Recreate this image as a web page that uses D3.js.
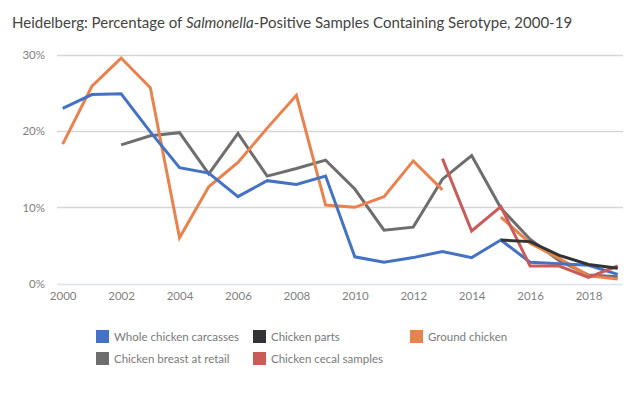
<!DOCTYPE html>
<html>
<head>
<meta charset="utf-8">
<script src="https://cdn.jsdelivr.net/npm/d3@7"></script>
<style>
  body { margin: 0; background: #fff; }
  svg { display: block; font-family: Lato, "Open Sans", sans-serif; }
</style>
</head>
<body>
<div id="chart"></div>
<script>
var years = d3.range(2000, 2020);

// percentages, null = no sampling that year
var wholeCarcasses = [23.0, 24.8, 24.9, 19.9, 15.2, 14.5, 11.4, 13.5, 13.0, 14.1, 3.5, 2.8, 3.4, 4.2, 3.4, 5.7, 2.8, 2.6, 2.4, 1.2];
var chickenParts   = [null, null, null, null, null, null, null, null, null, null, null, null, null, null, null, 5.7, 5.5, 3.7, 2.5, 2.0];
var groundChicken  = [18.3, 25.9, 29.6, 25.7, 6.0, 12.7, 15.9, 20.4, 24.7, 10.3, 10.0, 11.4, 16.1, 12.3, null, 8.7, 5.3, 3.3, 1.0, 0.6];
var breastRetail   = [null, null, 18.2, 19.4, 19.8, 14.4, 19.7, 14.1, 15.1, 16.2, 12.4, 7.0, 7.4, 13.7, 16.8, 9.9, 5.8, 3.0, 1.1, 0.9];
var cecalSamples   = [null, null, null, null, null, null, null, null, null, null, null, null, null, 16.4, 6.9, 10.1, 2.3, 2.3, 0.8, 2.3];

var yTicks = [0, 10, 20, 30];
var xTicks = [2000, 2002, 2004, 2006, 2008, 2010, 2012, 2014, 2016, 2018];

var series = [
  {name: "Whole chicken carcasses", color: "#4472C4", values: wholeCarcasses},
  {name: "Chicken parts", color: "#333333", values: chickenParts},
  {name: "Ground chicken", color: "#E8834E", values: groundChicken},
  {name: "Chicken breast at retail", color: "#6E6E6E", values: breastRetail},
  {name: "Chicken cecal samples", color: "#C95C58", values: cecalSamples}
];
// drawing order (later on top)
var drawOrder = [3, 2, 0, 4, 1];

var W = 640, H = 396;
var svg = d3.select("#chart").append("svg")
  .attr("width", W)
  .attr("height", H);

svg.append("text")
  .attr("x", 12)
  .attr("y", 28)
  .attr("font-size", "15px")
  .attr("fill", "#444")
  .html('Heidelberg: Percentage of <tspan font-style="italic">Salmonella</tspan>-Positive Samples Containing Serotype, 2000-19');

var gridLeft = 57, gridRight = 623;
var x = d3.scaleLinear().domain([2000, 2019]).range([62.7, 617.7]);
var y = d3.scaleLinear().domain([0, 30]).range([283.5, 55]);

// gridlines
svg.append("g")
  .selectAll("line")
  .data(yTicks)
  .enter().append("line")
    .attr("x1", gridLeft)
    .attr("x2", gridRight)
    .attr("y1", function(d) { return Math.round(y(d)) + 0.5; })
    .attr("y2", function(d) { return Math.round(y(d)) + 0.5; })
    .attr("stroke", function(d) { return d === 0 ? "#DCE3EF" : "#D6D6D6"; })
    .attr("stroke-width", 1.3);

// y axis labels
var yAxis = svg.append("g")
  .attr("transform", "translate(45,0)")
  .call(d3.axisLeft(y).tickValues(yTicks).tickSize(0).tickPadding(0)
    .tickFormat(function(d) { return d + "%"; }));
yAxis.select(".domain").remove();
yAxis.selectAll("text")
  .attr("fill", "#7F7F7F")
  .style("font", "11.5px Lato, sans-serif");

// x axis labels
var xAxis = svg.append("g")
  .attr("transform", "translate(0,292)")
  .call(d3.axisBottom(x).tickValues(xTicks).tickSize(0).tickPadding(0)
    .tickFormat(d3.format("d")));
xAxis.select(".domain").remove();
xAxis.selectAll("text")
  .attr("fill", "#7F7F7F")
  .style("font", "11.5px Lato, sans-serif");

var line = d3.line()
  .defined(function(d) { return d != null; })
  .x(function(d, i) { return x(years[i]); })
  .y(function(d) { return y(d); });

svg.append("g")
  .selectAll("path")
  .data(drawOrder.map(function(i) { return series[i]; }))
  .enter().append("path")
    .attr("fill", "none")
    .attr("stroke", function(d) { return d.color; })
    .attr("stroke-width", 3)
    .attr("stroke-linejoin", "miter")
    .attr("d", function(d) { return line(d.values); });

// legend
var legendPos = [[96, 330], [253, 330], [410, 330], [96, 352], [253, 352]];
var legend = svg.append("g")
  .selectAll("g")
  .data(series)
  .enter().append("g")
    .attr("transform", function(d, i) { return "translate(" + legendPos[i][0] + "," + legendPos[i][1] + ")"; });

legend.append("rect")
  .attr("width", 13)
  .attr("height", 13)
  .attr("fill", function(d) { return d.color; });

legend.append("text")
  .attr("x", 18)
  .attr("y", 7)
  .attr("dy", "0.35em")
  .attr("font-size", "11.5px")
  .attr("fill", "#7A7A7A")
  .text(function(d) { return d.name; });
</script>
</body>
</html>
